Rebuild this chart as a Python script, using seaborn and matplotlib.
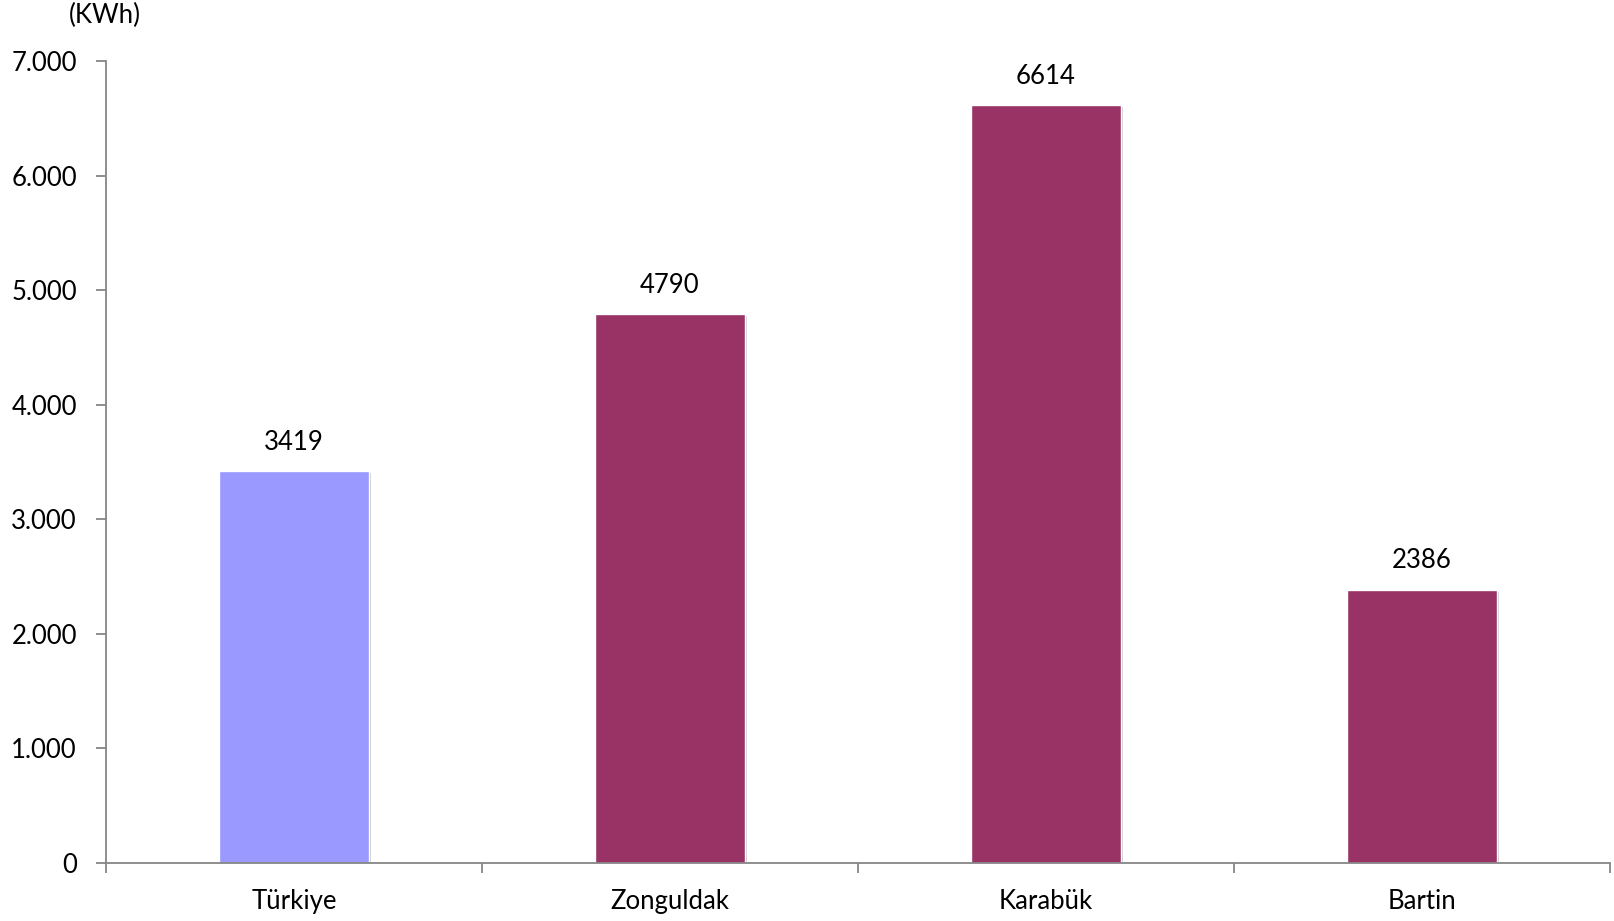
import matplotlib
matplotlib.use("Agg")
import matplotlib.pyplot as plt
import seaborn as sns
import pandas as pd
from matplotlib.ticker import FuncFormatter, FixedLocator
import matplotlib.patheffects as pe

categories = ["Türkiye", "Zonguldak", "Karabük", "Bartin"]
values = [3419, 4790, 6614, 2386]
colors = ["#9999FF", "#993366", "#993366", "#993366"]
unit_label = "(KWh)"

sns.set_theme(style="white")
plt.rcParams["font.family"] = ["Lato", "DejaVu Sans"]

df = pd.DataFrame({"cat": categories, "val": values})

fig = plt.figure(figsize=(16.14, 9.21), dpi=100)
ax = fig.add_axes([106 / 1614, 1 - 863 / 921, (1610 - 106) / 1614, (863 - 61) / 921])

sns.barplot(data=df, x="cat", y="val", hue="cat", palette=colors, width=0.4,
            dodge=False, legend=False, ax=ax, saturation=1)

for p in ax.patches:
    p.set_path_effects([pe.SimplePatchShadow(offset=(1.5, -1.5), alpha=0.3, shadow_rgbFace="#555555"), pe.Normal()])

for i, v in enumerate(values):
    ax.annotate(str(v), (i, v), xytext=(0, 12), textcoords="offset points",
                ha="center", va="bottom", fontsize=18.5, color="#000000")

ax.set_xlim(-0.5, len(categories) - 0.5)
ax.set_ylim(0, 7000)
ax.set_yticks(range(0, 7001, 1000))
ax.yaxis.set_major_formatter(FuncFormatter(lambda x, p: f"{int(x):,}".replace(",", ".")))
ax.set_xlabel("")
ax.set_ylabel("")

ax.xaxis.set_minor_locator(FixedLocator([i - 0.5 for i in range(len(categories) + 1)]))
ax.tick_params(axis="x", which="major", bottom=True, length=0, labelsize=18.5, pad=19, labelcolor="#000000")
ax.tick_params(axis="x", which="minor", bottom=True, length=7, width=1.3, color="#868686", direction="out")
ax.tick_params(axis="y", which="major", left=True, length=7, width=1.3, color="#868686", direction="out",
               labelsize=18.5, pad=14, labelcolor="#000000")

for s in ["top", "right"]:
    ax.spines[s].set_visible(False)
for s in ["left", "bottom"]:
    ax.spines[s].set_color("#868686")
    ax.spines[s].set_linewidth(1.3)

fig.text(105 / 1614, 1 - 15 / 921, unit_label, ha="center", va="center", fontsize=18.5, color="#000000")

fig.savefig("out.png", dpi=100)
